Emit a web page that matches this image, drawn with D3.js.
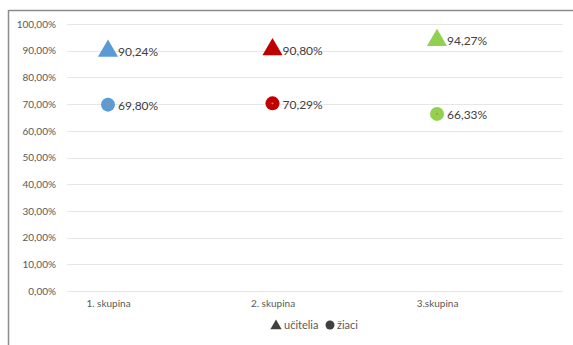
<!DOCTYPE html>
<html>
<head>
<meta charset="utf-8">
<script src="https://cdn.jsdelivr.net/npm/d3@7"></script>
<style>
  html, body { margin: 0; padding: 0; background: #fff; }
  svg { display: block; }
</style>
</head>
<body>
<svg id="chart" width="573" height="345"></svg>
<script>
// Group categories and the two series (shares, in %)
const categories = ["1. skupina", "2. skupina", "3.skupina"];
const ucitelia = [90.24, 90.80, 94.27];
const ziaci = [69.80, 70.29, 66.33];
const yTicks = [0, 10, 20, 30, 40, 50, 60, 70, 80, 90, 100];
const groupColors = ["#5b9bd5", "#c00000", "#92d050"];
const seriesNames = ["učitelia", "žiaci"];

const svg = d3.select("#chart");
const font = "Lato, 'Open Sans', sans-serif";
const fmt = v => v.toFixed(2).replace(".", ",") + "%";

// frame (top and left edges visible)
svg.append("line").attr("x1", 8.5).attr("x2", 573).attr("y1", 10.5).attr("y2", 10.5)
  .attr("stroke", "#8c8c8c").attr("stroke-width", 1.5);
svg.append("line").attr("x1", 8.5).attr("x2", 8.5).attr("y1", 10).attr("y2", 345)
  .attr("stroke", "#8c8c8c").attr("stroke-width", 1.5);

const y = d3.scaleLinear().domain([0, 100]).range([291, 24]);
const x = d3.scalePoint().domain(categories).range([108, 437]);

// gridlines
svg.append("g").selectAll("line").data(yTicks).join("line")
  .attr("x1", 67).attr("x2", 563)
  .attr("y1", d => Math.round(y(d)) + 0.5).attr("y2", d => Math.round(y(d)) + 0.5)
  .attr("stroke", "#e6e6e6").attr("stroke-width", 1);

// y axis labels
const yAxis = d3.axisLeft(y).tickValues(yTicks).tickSize(0).tickPadding(0)
  .tickFormat(d => d.toFixed(2).replace(".", ",") + "%");
const gy = svg.append("g").attr("transform", "translate(56,0)").call(yAxis);
gy.select(".domain").remove();
gy.selectAll("text").attr("font-family", font).attr("font-size", 10).attr("fill", "#595959");

// x axis labels
const xAxis = d3.axisBottom(x).tickSize(0).tickPadding(0);
const gx = svg.append("g").attr("transform", "translate(0,300)").call(xAxis);
gx.select(".domain").remove();
gx.selectAll("text").attr("font-family", font).attr("font-size", 10).attr("fill", "#595959");

const tri = d3.symbol().type(d3.symbolTriangle).size(175);

// teachers: triangles
svg.append("g").selectAll("path").data(ucitelia).join("path")
  .attr("d", tri)
  .attr("transform", (d, i) => `translate(${x(categories[i])},${y(d) + 1})`)
  .attr("fill", (d, i) => groupColors[i]);

// pupils: circles with a small centre dot
svg.append("g").selectAll("circle").data(ziaci).join("circle")
  .attr("cx", (d, i) => x(categories[i])).attr("cy", d => y(d))
  .attr("r", 7).attr("fill", (d, i) => groupColors[i]);
svg.append("g").selectAll("circle").data(ziaci).join("circle")
  .attr("cx", (d, i) => x(categories[i])).attr("cy", d => y(d))
  .attr("r", 1.1).attr("fill", "#ed7d31").attr("opacity", 0.8);

// value labels, to the right of each marker
const labels = svg.append("g").attr("font-family", font).attr("font-size", 12).attr("fill", "#404040");
labels.selectAll("text.u").data(ucitelia).join("text").attr("class", "u")
  .attr("x", (d, i) => x(categories[i]) + 10).attr("y", d => y(d) + 2)
  .attr("dy", "0.35em").text(fmt);
labels.selectAll("text.z").data(ziaci).join("text").attr("class", "z")
  .attr("x", (d, i) => x(categories[i]) + 10).attr("y", d => y(d) + 1)
  .attr("dy", "0.35em").text(fmt);

// legend
const lg = svg.append("g").attr("transform", "translate(0,325)");
lg.append("path").attr("d", d3.symbol().type(d3.symbolTriangle).size(55))
  .attr("transform", "translate(276,1)").attr("fill", "#404040");
lg.append("text").attr("x", 284).attr("y", 0).attr("dy", "0.35em")
  .attr("font-family", font).attr("font-size", 11).attr("fill", "#595959").text(seriesNames[0]);
lg.append("circle").attr("cx", 330).attr("cy", 0).attr("r", 4.5).attr("fill", "#404040");
lg.append("text").attr("x", 337).attr("y", 0).attr("dy", "0.35em")
  .attr("font-family", font).attr("font-size", 11).attr("fill", "#595959").text(seriesNames[1]);
</script>
</body>
</html>
